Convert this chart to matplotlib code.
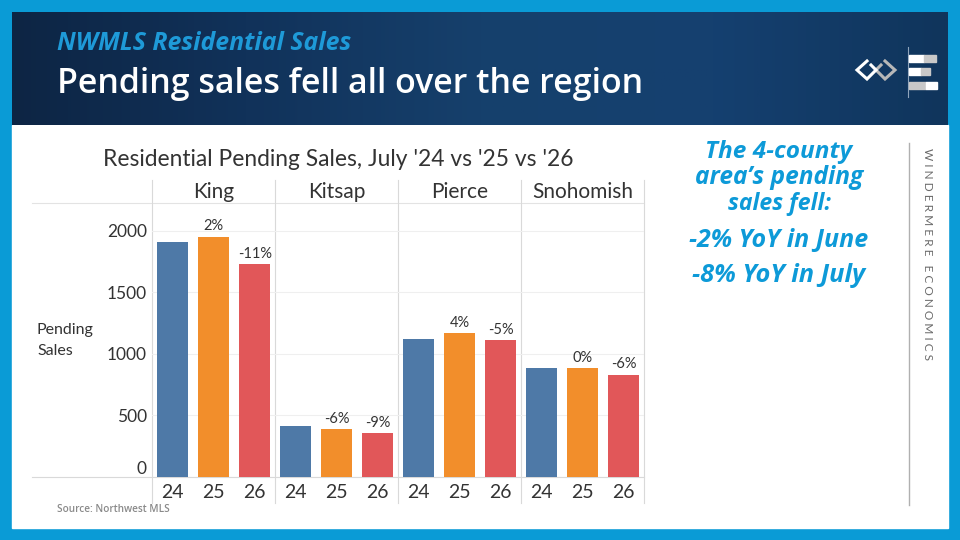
import numpy as np
import matplotlib.pyplot as plt
from matplotlib.colors import LinearSegmentedColormap
from matplotlib.patches import Rectangle
from matplotlib.transforms import blended_transform_factory

# data
counties = ["King", "Kitsap", "Pierce", "Snohomish"]
years = ["24", "25", "26"]
pending_24 = [1906, 412, 1120, 884]
pending_25 = [1949, 387, 1166, 881]
pending_26 = [1727, 352, 1111, 827]
yoy_25 = ["2%", "-6%", "4%", "0%"]
yoy_26 = ["-11%", "-9%", "-5%", "-6%"]
y_ticks = [0, 500, 1000, 1500, 2000]

bar_colors = ["#4e79a7", "#f28e2b", "#e15759"]
frame_blue = "#0a9bd6"
text_blue = "#0d9ad8"
chart_font = "Lato"
head_font = "Open Sans"

W, H = 960, 540
fig = plt.figure(figsize=(W / 100, H / 100), dpi=100, facecolor=frame_blue)
renderer = fig.canvas.get_renderer()


def fit(t, width_px, vertical=False):
    # scale the font so the text spans width_px pixels
    bb = t.get_window_extent(renderer)
    w = bb.height if vertical else bb.width
    t.set_fontsize(t.get_fontsize() * width_px / w)
    return t


# background axes in pixel coordinates (y downwards)
bg = fig.add_axes([0, 0, 1, 1])
bg.set_xlim(0, W)
bg.set_ylim(H, 0)
bg.axis("off")

bg.add_patch(Rectangle((12, 125), 936, 403, color="white", zorder=0))
head_cmap = LinearSegmentedColormap.from_list(
    "head", ["#0d2544", "#11325a", "#16406c", "#154070", "#10355c"]
)
grad = np.linspace(0, 1, 400).reshape(1, -1)
bg.imshow(grad, cmap=head_cmap, extent=(12, 948, 125, 12), aspect="auto", zorder=1)

# header texts
t = bg.text(57, 43, "NWMLS Residential Sales", color="#1e9ad8", family=head_font,
            weight="bold", style="italic", va="center", ha="left", fontsize=12, zorder=3)
fit(t, 293)
t = bg.text(57, 84, "Pending sales fell all over the region", color="white",
            family=head_font, weight=600, va="center", ha="left", fontsize=24, zorder=3)
fit(t, 588)

# logo
bg.plot([908, 908], [47, 97], color="#8fa4bb", lw=0.8, zorder=3)
logo_bars = [(55, 909, 924, 936, "white", "#c8c8c8"),
             (68, 909, 921, 930, "white", "#c8c8c8"),
             (82, 909, 926, 937, "#c8c8c8", "white")]
for y0, xa, xb, xc, c1, c2 in logo_bars:
    bg.add_patch(Rectangle((xa, y0), xb - xa, 7, color=c1, zorder=3))
    bg.add_patch(Rectangle((xb, y0), xc - xb, 7, color=c2, zorder=3))
bg.plot([867, 857, 867, 876, 871], [61, 70, 79, 70, 65], color="white", lw=2.2,
        solid_joinstyle="miter", zorder=4)
bg.plot([885, 895, 885, 876, 881], [61, 70, 79, 70, 65], color="#b8b8b8", lw=2.2,
        solid_joinstyle="miter", zorder=3)

# chart title and side labels
t = bg.text(103, 160, "Residential Pending Sales, July '24 vs '25 vs '26", color="#333333",
            family=chart_font, va="center", ha="left", fontsize=14, zorder=3)
fit(t, 469)
t = bg.text(37, 330, "Pending", color="#333333", family=chart_font, va="center",
            ha="left", fontsize=10, zorder=3)
fit(t, 57)
bg.text(37, 351, "Sales", color="#333333", family=chart_font, va="center", ha="left",
        fontsize=t.get_fontsize(), zorder=3)
t = bg.text(57, 510, "Source: Northwest MLS", color="#8a8a8a", family=head_font,
            weight=600, va="center", ha="left", fontsize=7, zorder=3)
fit(t, 113)

# right text block
side_lines = [("The 4-county", 152, 148), ("area\u2019s pending", 178, 169),
              ("sales fell:", 204, 103), ("-2% YoY in June", 240, 180),
              ("-8% YoY in July", 276, 174)]
for txt, yy, ww in side_lines:
    t = bg.text(779, yy, txt, color=text_blue, family=head_font, weight="bold",
                style="italic", va="center", ha="center", fontsize=15, zorder=3)
    fit(t, ww)

bg.plot([909, 909], [143, 505], color="#b0b0b0", lw=1, zorder=3)
t = bg.text(928, 254, " ".join("WINDERMERE") + "   " + " ".join("ECONOMICS"),
            color="#6a6a6a", family=chart_font, rotation=270, va="center",
            ha="center", fontsize=6, zorder=3)
fit(t, 212, vertical=True)

# chart axes
y_top, y_zero = 203, 476.7
x_left, x_right = 152.3, 644.3
ax = fig.add_axes([x_left / W, (H - y_zero) / H, (x_right - x_left) / W,
                   (y_zero - y_top) / H])
ax.patch.set_alpha(0)
n = len(counties) * len(years)
ax.set_xlim(-0.5, n - 0.5)
ax.set_ylim(0, 2225)

values = []
labels = []
for i in range(len(counties)):
    values += [pending_24[i], pending_25[i], pending_26[i]]
    labels += ["", yoy_25[i], yoy_26[i]]
xs = np.arange(n)
ax.bar(xs, values, width=0.75, color=[bar_colors[k % 3] for k in range(n)], zorder=3)
for x, v, lab in zip(xs, values, labels):
    if lab:
        ax.annotate(lab, (x, v), xytext=(0, 2.5), textcoords="offset points",
                    ha="center", va="bottom", fontsize=10.5, color="#333333",
                    family=chart_font)

for s in ax.spines.values():
    s.set_visible(False)
ax.set_yticks(y_ticks)
ax.set_yticklabels([str(v) for v in y_ticks], family=chart_font, fontsize=12.5,
                   color="#333333")
for lab in ax.get_yticklabels():
    if lab.get_text() == "0":
        lab.set_verticalalignment("bottom")
ax.set_xticks(xs)
ax.set_xticklabels(years * len(counties), family=chart_font, fontsize=14,
                   color="#333333")
ax.tick_params(length=0)
ax.tick_params(axis="y", pad=4)
ax.tick_params(axis="x", pad=5)
ax.yaxis.grid(True, color="#efefef", lw=0.8, zorder=0)

# pane separators, header row and base lines
mix = blended_transform_factory(ax.transData, bg.transData)
for k in range(len(counties) + 1):
    xv = k * 3 - 0.5
    ax.plot([xv, xv], [180, 503], color="#d9d9d9", lw=0.8, transform=mix,
            clip_on=False, zorder=1)
for k, name in enumerate(counties):
    ax.text(k * 3 + 1, 192, name, transform=mix, ha="center", va="center",
            family=chart_font, fontsize=15, color="#333333")
bg.plot([32, x_right], [y_top, y_top], color="#e3e3e3", lw=0.8, zorder=2)
bg.plot([32, x_right], [y_zero, y_zero], color="#d9d9d9", lw=0.8, zorder=2)

fig.savefig("out.png", dpi=100, facecolor=frame_blue)
